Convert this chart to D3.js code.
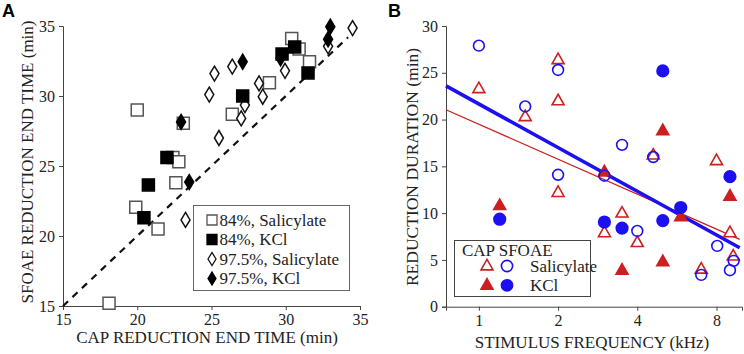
<!DOCTYPE html>
<html>
<head>
<meta charset="utf-8">
<script src="https://cdn.jsdelivr.net/npm/d3@7"></script>
<style>
  body { margin: 0; background: #fff; }
  .axis path, .axis line { stroke: #444; }
</style>
</head>
<body>
<div id="chart"></div>
<script>
/* panel A: CAP vs SFOAE reduction end time (min) */
var sal84 = [[18.1,15.2],[20.0,29.0],[19.9,22.05],[21.4,20.5],[22.6,23.8],[22.4,25.6],[22.8,25.3],
             [23.1,28.05],[26.4,28.7],[28.9,30.95],[30.4,34.1],[30.9,33.35],[31.6,32.45]];
var kcl84 = [[20.45,21.3],[20.75,23.65],[22.0,25.6],[27.1,30.0],[29.75,33.0],[30.6,33.5],[31.5,31.65]];
var sal975 = [[23.25,21.15],[25.5,27.0],[24.85,30.1],[25.2,31.6],[26.4,32.1],[27.0,28.4],[27.25,29.35],
              [28.2,30.9],[28.45,29.95],[29.95,31.8],[32.85,33.55],[34.5,34.85]];
var kcl975 = [[22.95,28.15],[23.5,23.85],[27.1,32.45],[29.65,32.7],[32.85,34.05],[33.0,34.95]];
var unityLine = [[15,15],[34.2,34.2]];
var ticksA = [15,20,25,30,35];
var legendA = ["84%, Salicylate","84%, KCl","97.5%, Salicylate","97.5%, KCl"];

/* panel B: reduction duration vs stimulus frequency (kHz) */
var capSal = [[1,23.3],[1.5,20.3],[2,26.4],[2,22.0],[2,12.2],[3,7.9],[3.5,10.0],[4,6.85],[4.6,16.2],
              [7,4.0],[8,15.6],[9.0,7.9],[9.26,5.4]];
var capKcl = [[1.2,10.8],[3,14.4],[3.5,3.9],[5,18.8],[5,4.8],[5.85,9.6],[9.0,11.8]];
var sfSal = [[1,27.9],[1.5,21.4],[2,25.3],[2,14.1],[3,14.0],[3.5,17.3],[4,8.1],[4.6,16.0],
             [8.05,6.5],[7,3.4],[9.0,3.9],[9.3,4.9]];
var sfKcl = [[1.2,9.35],[3,9.05],[3.5,8.4],[5,25.2],[5,9.2],[5.85,10.6],[9.0,13.9]];
var fitSfoae = [[0.75,23.6],[9.8,6.3]];
var fitCap = [[0.75,21.05],[9.8,7.2]];
var ticksBx = [1,2,4,8];
var ticksBy = [0,5,10,15,20,25,30];

var red = "#cc1f1f", blue = "#1c10f2";
var serif = "'Liberation Serif', 'Times New Roman', Times, serif";

var svg = d3.select("#chart").append("svg")
    .attr("width", 744).attr("height", 354);

function label(x, y, txt, size){
  return svg.append("text").attr("x",x).attr("y",y)
     .style("font-family", serif).style("font-size", size+"px").style("fill","#222").text(txt);
}

/* ---------- panel A ---------- */
var xA = d3.scaleLinear().domain([15,35]).range([63,360]);
var yA = d3.scaleLinear().domain([15,35]).range([306,26]);

svg.append("g").attr("class","axis")
   .attr("transform","translate(0,306)")
   .call(d3.axisBottom(xA).tickValues(ticksA).tickSize(4).tickPadding(4));
svg.append("g").attr("class","axis")
   .attr("transform","translate(63,0)")
   .call(d3.axisLeft(yA).tickValues(ticksA).tickSize(4).tickPadding(4));

svg.append("path")
   .datum(unityLine)
   .attr("d", d3.line().x(function(d){ return xA(d[0]); }).y(function(d){ return yA(d[1]); }))
   .style("stroke","#111").style("stroke-width",2.2).style("stroke-dasharray","7,6").style("fill","none");

function squarePath(s){ return "M"+(-s)+","+(-s)+"H"+s+"V"+s+"H"+(-s)+"Z"; }
function diamondPath(w,h){ return "M0,"+(-h)+"L"+w+",0L0,"+h+"L"+(-w)+",0Z"; }

function drawA(data, path, fill, stroke){
  svg.append("g").selectAll("path")
     .data(data).enter().append("path")
     .attr("transform", function(d){ return "translate("+xA(d[0])+","+yA(d[1])+")"; })
     .attr("d", path)
     .style("fill", fill).style("stroke", stroke).style("stroke-width", 1.5);
}
drawA(sal84, squarePath(6), "#fff", "#555");
drawA(sal975, diamondPath(4.5,7.5), "#fff", "#111");
drawA(kcl84, squarePath(6), "#000", "#000");
drawA(kcl975, diamondPath(4.5,7.5), "#000", "#000");

var legA = svg.append("g");
legA.append("rect").attr("x",193.5).attr("y",205.5).attr("width",156).attr("height",85)
    .style("fill","#fff").style("stroke","#666").style("stroke-width",1);
var legShapes = [[squarePath(5),"#fff","#555"],[squarePath(5),"#000","#000"],
                 [diamondPath(4,6.5),"#fff","#111"],[diamondPath(4,6.5),"#000","#000"]];
legendA.forEach(function(t,i){
  var yy = 220 + i*19.5;
  legA.append("path").attr("transform","translate(212,"+yy+")").attr("d",legShapes[i][0])
      .style("fill",legShapes[i][1]).style("stroke",legShapes[i][2]).style("stroke-width",1.3);
  label(219.5, yy+5.5, t, 17);
});

label(207, 343, "CAP REDUCTION END TIME (min)", 17).attr("text-anchor","middle");
label(0, 0, "SFOAE REDUCTION END TIME (min)", 17).attr("text-anchor","middle")
   .attr("transform","translate(33,162) rotate(-90)");
svg.append("text").attr("x",2).attr("y",17).style("font-family","'Liberation Sans', Arial, sans-serif")
   .style("font-weight","bold").style("font-size","18px").style("fill","#000").text("A");

/* ---------- panel B ---------- */
var xB = d3.scaleLog().base(2).domain([0.75,10]).range([446,742]);
var yB = d3.scaleLinear().domain([0,30]).range([306.7,26]);

svg.append("g").attr("class","axis")
   .attr("transform","translate(0,306.7)")
   .call(d3.axisBottom(xB).tickValues(ticksBx).tickFormat(d3.format("d")).tickSize(4).tickPadding(4));
svg.append("g").attr("class","axis")
   .attr("transform","translate(446,0)")
   .call(d3.axisLeft(yB).tickValues(ticksBy).tickSize(4).tickPadding(4));

svg.selectAll(".axis text")
   .style("font-family", serif).style("font-size","16px").style("fill","#222");

var lineB = d3.line().x(function(d){ return xB(d[0]); }).y(function(d){ return yB(d[1]); });
svg.append("path").datum(fitCap).attr("d", lineB)
   .style("stroke",red).style("stroke-width",1.3).style("fill","none");
svg.append("path").datum(fitSfoae).attr("d", lineB)
   .style("stroke",blue).style("stroke-width",3.6).style("fill","none");

function triPath(s){ return "M0,"+(-s*1.1)+"L"+s+","+(s*0.65)+"L"+(-s)+","+(s*0.65)+"Z"; }

function drawB(data, kind, filled, color){
  var g = svg.append("g");
  var sel = g.selectAll("path").data(data).enter();
  if (kind === "circle") {
    sel.append("circle")
       .attr("cx", function(d){ return xB(d[0]); }).attr("cy", function(d){ return yB(d[1]); })
       .attr("r", filled ? 5.8 : 5.4)
       .style("fill", filled ? color : "none").style("stroke", color).style("stroke-width", 1.6);
  } else {
    sel.append("path")
       .attr("transform", function(d){ return "translate("+xB(d[0])+","+yB(d[1])+")"; })
       .attr("d", triPath(6))
       .style("fill", filled ? color : "#fff").style("stroke", color).style("stroke-width", 1.6);
  }
}
drawB(capSal, "tri", false, red);
drawB(capKcl, "tri", true, red);
drawB(sfSal, "circle", false, blue);
drawB(sfKcl, "circle", true, blue);

var legB = svg.append("g");
legB.append("rect").attr("x",454.5).attr("y",240.5).attr("width",136).attr("height",56)
    .style("fill","#fff").style("stroke","#444").style("stroke-width",1);
label(462, 256, "CAP SFOAE", 17);
[["Salicylate",false],["KCl",true]].forEach(function(r,i){
  var yy = 266 + i*19.3;
  legB.append("path").attr("transform","translate(487,"+yy+")").attr("d",triPath(6))
      .style("fill", r[1] ? red : "#fff").style("stroke",red).style("stroke-width",1.6);
  legB.append("circle").attr("cx",507).attr("cy",yy).attr("r",5.6)
      .style("fill", r[1] ? blue : "none").style("stroke",blue).style("stroke-width",1.6);
  label(530, yy+5.5, r[0], 17);
});

label(592, 348, "STIMULUS FREQUENCY (kHz)", 17).attr("text-anchor","middle");
label(0, 0, "REDUCTION DURATION (min)", 17.5).attr("text-anchor","middle")
   .attr("transform","translate(418,167) rotate(-90)");
svg.append("text").attr("x",388).attr("y",17).style("font-family","'Liberation Sans', Arial, sans-serif")
   .style("font-weight","bold").style("font-size","18px").style("fill","#000").text("B");
</script>
</body>
</html>
